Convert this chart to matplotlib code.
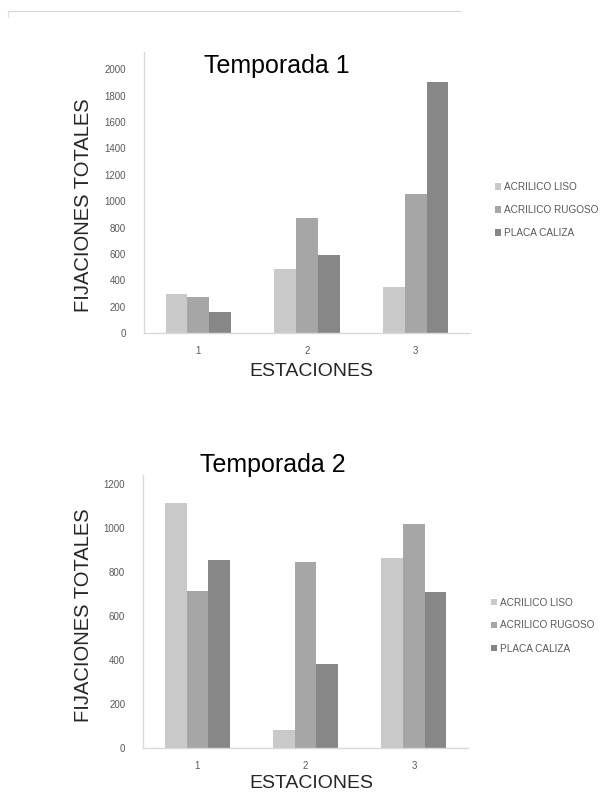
import matplotlib
matplotlib.use("Agg")
import matplotlib.pyplot as plt
from matplotlib.lines import Line2D
import numpy as np

# Data
estaciones = ["1", "2", "3"]
series = ["ACRILICO LISO", "ACRILICO RUGOSO", "PLACA CALIZA"]
colores = ["#c9c9c9", "#a6a6a6", "#878787"]

temporada1_liso = [300, 490, 350]
temporada1_rugoso = [275, 875, 1055]
temporada1_caliza = [160, 595, 1900]

temporada2_liso = [1115, 85, 865]
temporada2_rugoso = [715, 845, 1020]
temporada2_caliza = [855, 385, 710]

yticks1 = [0, 200, 400, 600, 800, 1000, 1200, 1400, 1600, 1800, 2000]
yticks2 = [0, 200, 400, 600, 800, 1000, 1200]

W, H = 606, 795
fig = plt.figure(figsize=(W / 100, H / 100), dpi=100)
fig.patch.set_facecolor("white")

regular = ["Liberation Sans", "DejaVu Sans"]
grey_txt = "#595959"
spine_col = "#d9d9d9"


def px_axes(left, top, right, bottom):
    return fig.add_axes([left / W, 1 - bottom / H, (right - left) / W, (bottom - top) / H])


def draw_panel(ax, valores, ymax, yticks, titulo, title_xy, ylabel_y, xlabel_y, legend_xy):
    x = np.arange(len(estaciones))
    width = 0.2
    for i, (vals, lab, col) in enumerate(zip(valores, series, colores)):
        ax.bar(x + (i - 1) * width, vals, width, color=col, label=lab, zorder=2)
    ax.set_xlim(-0.5, len(estaciones) - 0.5)
    ax.set_ylim(0, ymax)
    ax.set_xticks(x)
    ax.set_xticklabels(estaciones, family=regular, fontsize=7, color=grey_txt)
    ax.set_yticks(yticks)
    ax.set_yticklabels([str(t) for t in yticks], family=regular, fontsize=7, color=grey_txt)
    ax.tick_params(axis="both", length=0)
    ax.tick_params(axis="y", pad=13)
    ax.tick_params(axis="x", pad=9)
    for s in ["top", "right"]:
        ax.spines[s].set_visible(False)
    for s in ["left", "bottom"]:
        ax.spines[s].set_color(spine_col)
        ax.spines[s].set_linewidth(1.0)
    fig.text(title_xy[0] / W, 1 - title_xy[1] / H, titulo, family=regular,
             fontsize=18, color="black", ha="center", va="center")
    fig.text(83.5 / W, 1 - ylabel_y / H, "FIJACIONES TOTALES", family=regular,
             fontsize=14.5, color="#262626", rotation=90, ha="center", va="center")
    fig.text(311 / W, 1 - xlabel_y / H, "ESTACIONES", family=regular,
             fontsize=14, color="#262626", ha="center", va="center")
    ax.legend(loc="center left", bbox_to_anchor=(legend_xy[0] / W, 1 - legend_xy[1] / H),
              bbox_transform=fig.transFigure, frameon=False, borderpad=0,
              borderaxespad=0, handlelength=0.6, handleheight=0.6,
              handletextpad=0.3, labelspacing=1.3,
              prop={"family": regular, "size": 7.2}, labelcolor=grey_txt)


# Upper chart
ax1 = px_axes(144, 51.7, 470, 333.3)
draw_panel(ax1, [temporada1_liso, temporada1_rugoso, temporada1_caliza], 2133,
           yticks1, "Temporada 1", (276.7, 66), 205, 372, (495, 210))

# Lower chart
ax2 = px_axes(143.3, 475, 468, 748.3)
draw_panel(ax2, [temporada2_liso, temporada2_rugoso, temporada2_caliza], 1242,
           yticks2, "Temporada 2", (273, 465), 615, 783, (491, 625.5))

# thin frame line along the top edge
fig.add_artist(Line2D([8 / W, 460 / W], [1 - 10.7 / H, 1 - 10.7 / H],
                      transform=fig.transFigure, color="#d4d4d4", linewidth=0.8))
fig.add_artist(Line2D([8 / W, 8 / W], [1 - 10.7 / H, 1 - 17 / H],
                      transform=fig.transFigure, color="#e0e0e0", linewidth=0.8))

fig.savefig("out.png", dpi=100, facecolor="white")
